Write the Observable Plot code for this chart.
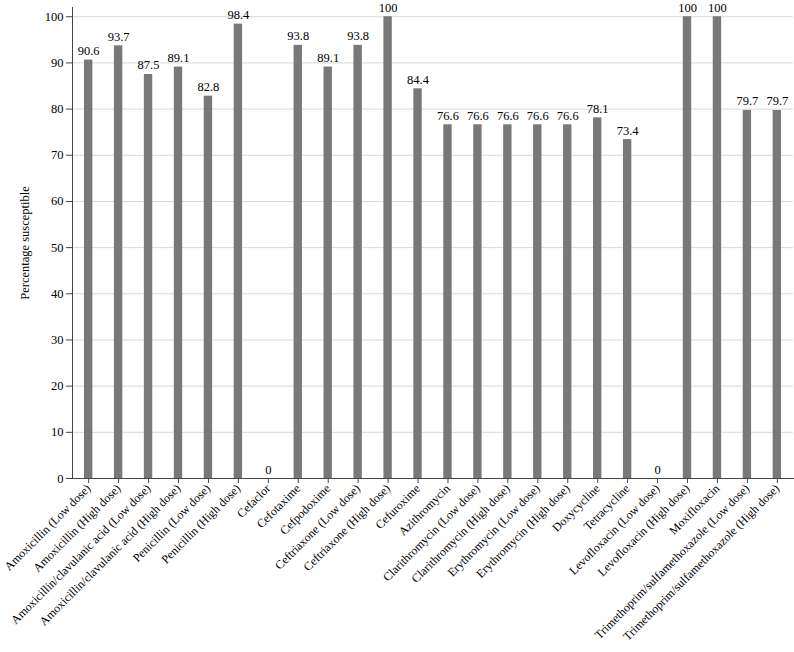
<!DOCTYPE html>
<html>
<head>
<meta charset="utf-8">
<script src="https://cdn.jsdelivr.net/npm/d3@7"></script>
<script src="https://cdn.jsdelivr.net/npm/@observablehq/plot@0.6"></script>
<style>
  html, body { margin: 0; padding: 0; background: #fff; }
  #chart { width: 794px; height: 652px; }
  #chart svg, #chart svg text { font-family: "Liberation Serif", "Times New Roman", Times, serif; }
</style>
</head>
<body>
<div id="chart"></div>
<script>
// Antibiotic names, in display order
const antibiotics = [
  "Amoxicillin (Low dose)",
  "Amoxicillin (High dose)",
  "Amoxicillin/clavulanic acid (Low dose)",
  "Amoxicillin/clavulanic acid (High dose)",
  "Penicillin (Low dose)",
  "Penicillin (High dose)",
  "Cefaclor",
  "Cefotaxime",
  "Cefpodoxime",
  "Ceftriaxone (Low dose)",
  "Ceftriaxone (High dose)",
  "Cefuroxime",
  "Azithromycin",
  "Clarithromycin (Low dose)",
  "Clarithromycin (High dose)",
  "Erythromycin (Low dose)",
  "Erythromycin (High dose)",
  "Doxycycline",
  "Tetracycline",
  "Levofloxacin (Low dose)",
  "Levofloxacin (High dose)",
  "Moxifloxacin",
  "Trimethoprim/sulfamethoxazole (Low dose)",
  "Trimethoprim/sulfamethoxazole (High dose)"
];

// Percentage of isolates susceptible to each antibiotic
const susceptible = [
  90.6, 93.7, 87.5, 89.1, 82.8, 98.4,
  0, 93.8, 89.1, 93.8, 100, 84.4,
  76.6, 76.6, 76.6, 76.6, 76.6, 78.1,
  73.4, 0, 100, 100, 79.7, 79.7
];

const yTicks = [0, 10, 20, 30, 40, 50, 60, 70, 80, 90, 100];

const rows = antibiotics.map((name, i) => ({name, value: susceptible[i]}));

const chart = Plot.plot({
  width: 794,
  height: 652,
  marginTop: 7,
  marginLeft: 72,
  marginRight: 1,
  marginBottom: 174,
  style: "font-family: 'Liberation Serif', 'Times New Roman', Times, serif; font-size: 12px; color: #000; background: #fff;",
  x: {domain: antibiotics, paddingInner: 0.72, paddingOuter: 0.4, round: false},
  y: {domain: [0, 102]},
  marks: [
    Plot.gridY(yTicks, {stroke: "#d9d9d9", strokeOpacity: 1}),
    Plot.barY(rows, {x: "name", y: "value", fill: "#787878"}),
    Plot.text(rows, {x: "name", y: "value", text: d => String(d.value), dy: -9, fill: "#000", fontSize: 12.5}),
    Plot.frame({anchor: "left", stroke: "#444"}),
    Plot.frame({anchor: "bottom", stroke: "#444"}),
    Plot.axisY(yTicks, {
      tickSize: 6, tickPadding: 3, stroke: "#444", fontSize: 12.5,
      label: "Percentage susceptible", labelAnchor: "center", labelArrow: "none", labelOffset: 52
    }),
    Plot.axisX({tickRotate: -45, tickSize: 5, tickPadding: 3, stroke: "#444", fontSize: 12, label: null})
  ]
});

document.getElementById("chart").appendChild(chart);
</script>
</body>
</html>
